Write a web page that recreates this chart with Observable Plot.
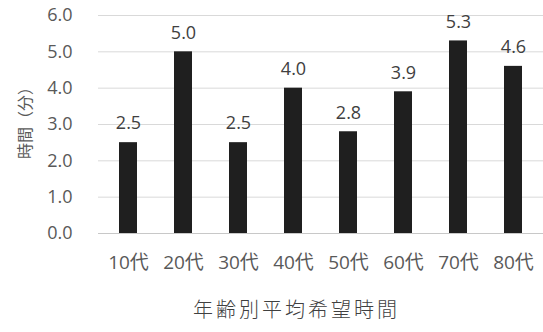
<!DOCTYPE html>
<html><head><meta charset="utf-8">
<script src="https://cdn.jsdelivr.net/npm/d3@7"></script>
<script src="https://cdn.jsdelivr.net/npm/@observablehq/plot@0.6"></script>
<style>
body{margin:0;background:#fff;font-family:"Noto Sans CJK JP","Open Sans",sans-serif;}
#chart svg{display:block;}
#cap{width:543px;text-align:center;font-size:20px;line-height:24px;color:#404040;font-family:"Noto Sans CJK JP",serif;font-weight:300;margin-top:12px;padding-left:50px;box-sizing:border-box;letter-spacing:3px;}
</style></head>
<body>
<div id="chart"></div>
<div id="cap"></div>
<script>
const categories = ["10代","20代","30代","40代","50代","60代","70代","80代"];
const values = [2.5, 5.0, 2.5, 4.0, 2.8, 3.9, 5.3, 4.6];
const yTicks = [0,1,2,3,4,5,6];
const yLabel = "時間（分）";
const title = "年齢別平均希望時間";

const data = categories.map((c,i)=>({cat:c, v:values[i]}));

const plot = Plot.plot({
  width: 543,
  height: 285,
  marginTop: 15,
  marginBottom: 52,
  marginLeft: 98,
  marginRight: 0,
  style: {fontFamily: '"Open Sans","Noto Sans CJK JP",sans-serif', fontSize: "18px", color: "#595959", background: "#fff", overflow: "visible"},
  x: {domain: categories, paddingInner: 0.68, paddingOuter: 0.34, label: null},
  y: {domain: [0,6], ticks: yTicks, label: null},
  marks: [
    Plot.gridY(yTicks, {stroke: "#d9d9d9", strokeOpacity: 1}),
    Plot.ruleY([0], {stroke: "#c8c8c8"}),
    Plot.barY(data, {x: "cat", y: "v", fill: "#1f1f1f"}),
    Plot.text(data, {x: "cat", y: "v", text: d => d.v.toFixed(1), dy: -19, fill: "#404040", fontSize: 18}),
    Plot.axisX({tickSize: 0, tickPadding: 22, fontSize: 19, fill: "#595959", label: null}),
    Plot.axisY({ticks: yTicks, tickSize: 0, tickPadding: 26, tickFormat: d => d.toFixed(1), fontSize: 18, fill: "#595959", label: null}),
    Plot.text([yLabel], {frameAnchor: "left", textAnchor: "middle", dx: -73, rotate: -90, fill: "#595959", fontSize: 16, y: () => 3.15, fontFamily: '"Noto Sans CJK JP",sans-serif'})
  ]
});
document.getElementById("chart").appendChild(plot);
document.getElementById("cap").textContent = title;
</script>
</body></html>
